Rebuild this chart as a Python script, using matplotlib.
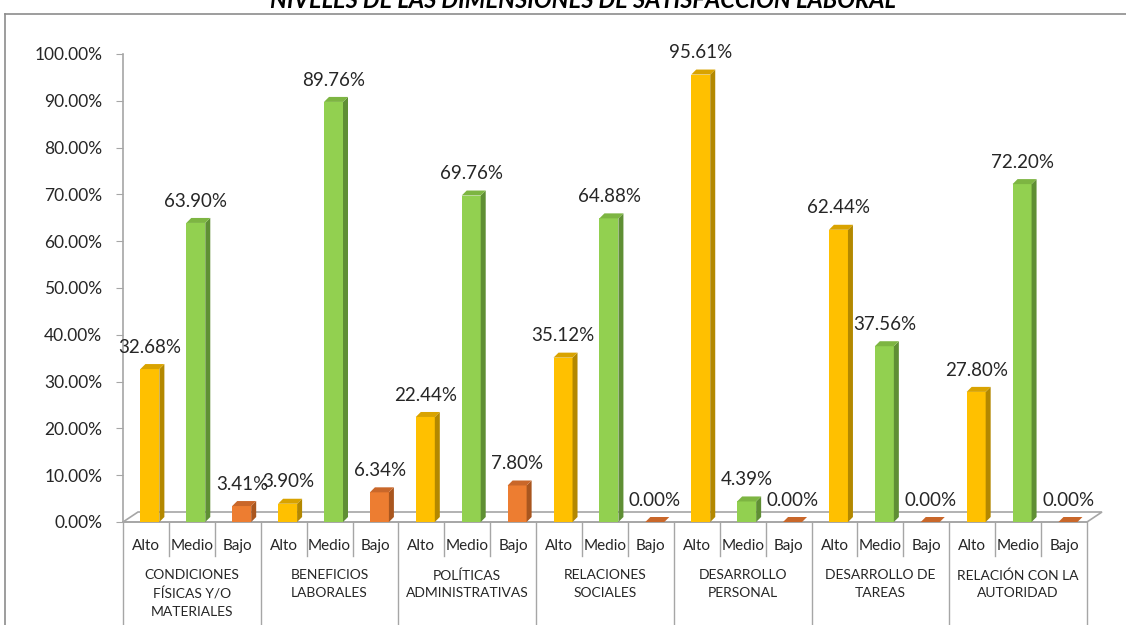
import numpy as np
import matplotlib.pyplot as plt
from matplotlib.patches import Polygon
from matplotlib.lines import Line2D

plt.rcParams['font.family'] = ['Lato', 'DejaVu Sans']

# groups and levels
dimensiones = ['CONDICIONES\nFÍSICAS Y/O\nMATERIALES', 'BENEFICIOS\nLABORALES',
               'POLÍTICAS\nADMINISTRATIVAS', 'RELACIONES\nSOCIALES',
               'DESARROLLO\nPERSONAL', 'DESARROLLO DE\nTAREAS',
               'RELACIÓN CON LA\nAUTORIDAD']
niveles = ['Alto', 'Medio', 'Bajo']

alto = [32.68, 3.90, 22.44, 35.12, 95.61, 62.44, 27.80]
medio = [63.90, 89.76, 69.76, 64.88, 4.39, 37.56, 72.20]
bajo = [3.41, 6.34, 7.80, 0.00, 0.00, 0.00, 0.00]

# front, side, top colours per level
front = ['#FFC000', '#92D050', '#ED7D31']
side = ['#B38800', '#5F8F34', '#A9561F']
top = ['#D9A300', '#7DB542', '#C9672A']

W, H = 1126, 625
fig = plt.figure(figsize=(W / 100, H / 100), dpi=100)

x0, x1 = 123, 1087
y0, y100 = 522, 54
ax = fig.add_axes([x0 / W, (H - y0) / H, (x1 - x0) / W, (y0 - y100) / H])
ax.set_xlim(0, 21)
ax.set_ylim(0, 100)

px_x = (x1 - x0) / 21.0   # pixels per slot
px_y = (y0 - y100) / 100.0  # pixels per percent

# bar geometry (slot / percent units)
bw = 19 / px_x
dx = 5 / px_x
dy = 5 / px_y

vals = np.array([alto, medio, bajo]).T.flatten()
lvl = np.tile(np.arange(3), 7)

# floor of the 3D box
fdx, fdy = 15 / px_x, 10 / px_y
floor = Polygon([(0, 0), (21, 0), (21 + fdx, fdy), (fdx, fdy)], closed=True,
                facecolor='white', edgecolor='#A6A6A6', lw=1.2, clip_on=False, zorder=1)
ax.add_patch(floor)

for i, (v, k) in enumerate(zip(vals, lvl)):
    left = i + 0.5 - bw / 2 - dx / 2 + 0.14
    right = left + bw
    if v > 0:
        ax.bar(left, v, width=bw, align='edge', color=front[k], zorder=3, lw=0)
        ax.add_patch(Polygon([(right, 0), (right + dx, dy), (right + dx, v + dy), (right, v)],
                             closed=True, facecolor=side[k], lw=0, zorder=3, clip_on=False))
    ax.add_patch(Polygon([(left, v), (right, v), (right + dx, v + dy), (left + dx, v + dy)],
                         closed=True, facecolor=top[k], lw=0, zorder=3, clip_on=False))
    ax.annotate('%.2f%%' % v, (left + (bw + dx) / 2 - 0.05, v + dy), xytext=(0, 6),
                textcoords='offset points', ha='center', va='bottom',
                fontsize=13.5, color='#262626', zorder=5, annotation_clip=False)

ax.set_yticks(np.arange(0, 101, 10))
ax.set_yticklabels(['%.2f%%' % t for t in np.arange(0, 101, 10)], fontsize=12.5, color='#262626')
ax.tick_params(axis='y', length=5, color='#A6A6A6', pad=10)
ax.set_xticks([])
for s in ['top', 'right']:
    ax.spines[s].set_visible(False)
ax.spines['left'].set_color('#A6A6A6')
ax.spines['bottom'].set_color('#A6A6A6')
ax.spines['left'].set_linewidth(1.2)
ax.spines['bottom'].set_linewidth(1.2)
ax.patch.set_visible(False)

# category axis: level ticks, group separators and labels
tr = ax.get_xaxis_transform()
short = -34 / (y0 - y100)
longb = -(H - y0 + 5) / (y0 - y100)
for i in range(22):
    yb = longb if i % 3 == 0 else short
    ax.add_line(Line2D([i, i], [0, yb], transform=tr, color='#A6A6A6', lw=1, clip_on=False))
for i in range(21):
    ax.text(i + 0.5, -24 / (y0 - y100), niveles[i % 3], transform=tr, ha='center', va='center',
            fontsize=11, color='#262626')
for g, name in enumerate(dimensiones):
    ax.text(g * 3 + 1.5, -47 / (y0 - y100), name, transform=tr, ha='center', va='top',
            fontsize=10, color='#262626', linespacing=1.58)

# chart border
fig.add_artist(Line2D([5 / W, 5 / W], [0, (H - 14) / H], color='#8C8C8C', lw=1.2))
fig.add_artist(Line2D([5 / W, 1], [(H - 14) / H, (H - 14) / H], color='#8C8C8C', lw=1.2))

fig.text(583 / W, 1.0, 'NIVELES DE LAS DIMENSIONES DE SATISFACCIÓN LABORAL', ha='center',
         va='center', fontsize=17, fontweight='bold', style='italic', color='black')

fig.savefig('out.png', dpi=100)
